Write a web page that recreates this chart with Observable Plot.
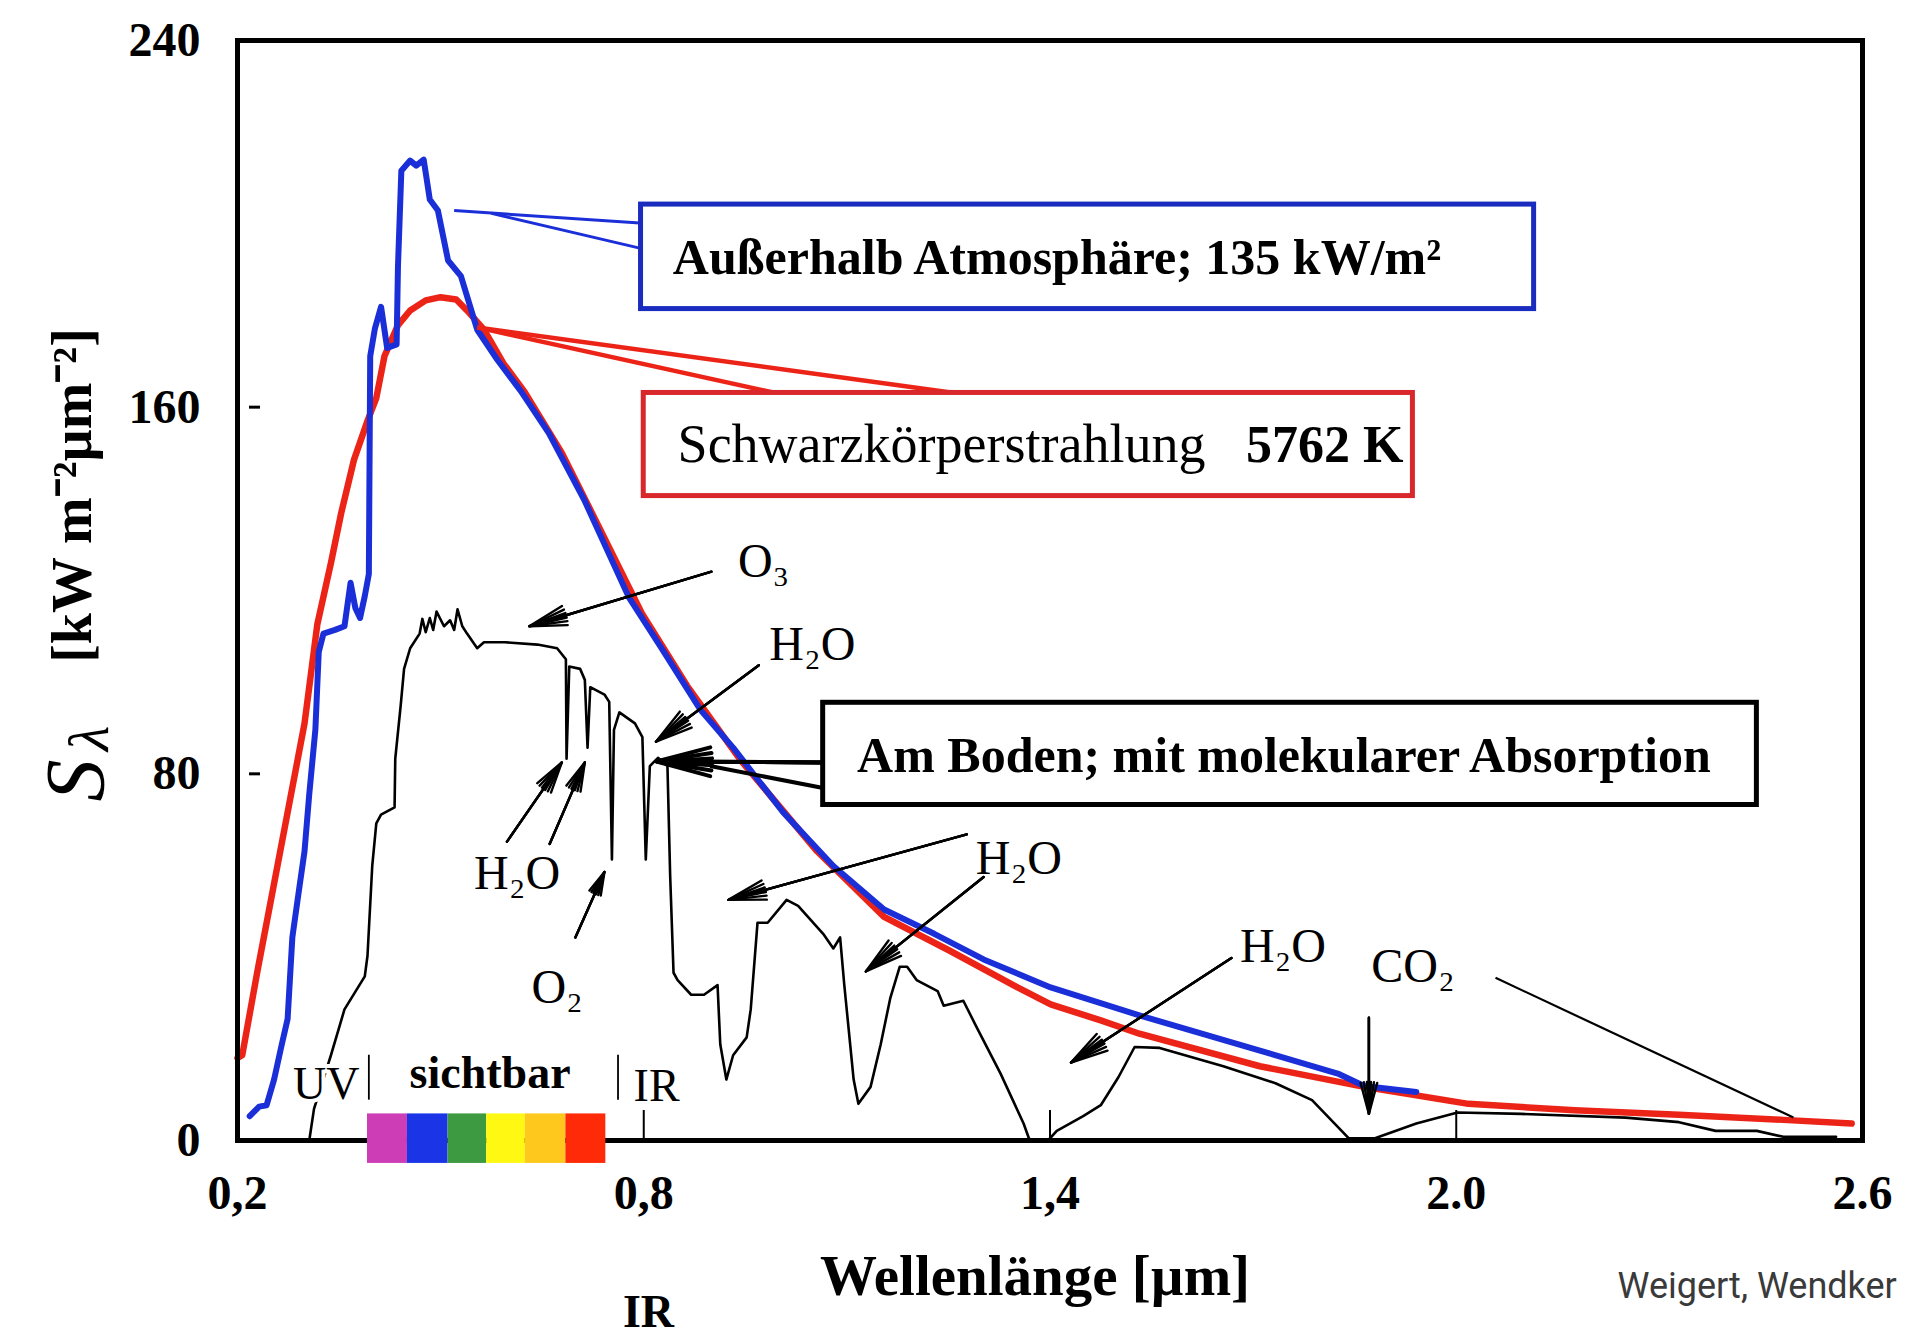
<!DOCTYPE html>
<html>
<head>
<meta charset="utf-8">
<script src="https://cdn.jsdelivr.net/npm/d3@7"></script>
<script src="https://cdn.jsdelivr.net/npm/@observablehq/plot@0.6"></script>
<style>
  html, body { margin: 0; padding: 0; background: #fff; overflow: hidden; }
  #chart { width: 1906px; height: 1340px; }
</style>
</head>
<body>
<div id="chart"></div>
<script>
// ---------------- DATA ----------------
// axis ticks
const xTicks = [0.2, 0.8, 1.4, 2.0, 2.6];
const xTickLabels = ["0,2", "0,8", "1,4", "2.0", "2.6"];
const yTicks = [0, 80, 160, 240];

// Außerhalb Atmosphäre (blue), wavelength [µm] and S_λ
const blueLambda = [0.218,0.232,0.243,0.254,0.265,0.274,0.281,0.290,0.299,0.306,0.315,0.320,0.327,0.344,0.358,0.367,0.374,0.381,0.388,0.394,0.396,0.403,0.412,0.421,0.435,0.437,0.442,0.455,0.464,0.475,0.484,0.496,0.511,0.530,0.554,0.584,0.618,0.660,0.712,0.778,0.825,0.884,0.932,1.006,1.080,1.155,1.229,1.302,1.401,1.532,1.710,1.825,1.864,1.941];
const blueS      = [5.3,7.4,7.7,13.3,20.7,26.5,44.3,53.8,63.1,75.6,89.6,106.6,110.6,111.4,112.2,121.7,116.2,114.0,118.8,123.6,171.1,177.2,181.9,172.9,173.7,190.7,211.6,213.8,212.7,214.0,205.3,202.9,192.0,188.6,176.9,170.3,163.6,154.3,139.8,118.5,107.7,93.9,85.7,71.6,59.9,50.4,45.1,39.5,33.4,27.3,19.6,14.6,11.9,10.6];

// Schwarzkörperstrahlung 5762 K (red)
const redLambda = [0.200,0.207,0.229,0.259,0.299,0.318,0.338,0.353,0.372,0.392,0.405,0.417,0.437,0.455,0.478,0.500,0.523,0.539,0.564,0.593,0.624,0.679,0.731,0.798,0.864,0.943,1.056,1.155,1.252,1.352,1.401,1.475,1.532,1.710,1.864,2.018,2.175,2.329,2.483,2.584];
const redS      = [18.0,18.6,36.6,59.9,91.0,112.7,126.0,136.8,148.5,157.0,162.0,171.1,177.9,181.1,183.3,184.0,183.5,181.1,176.9,169.5,163.3,150.0,134.7,114.8,99.2,83.0,63.1,48.8,41.4,33.4,29.7,26.2,23.3,16.2,11.7,8.0,6.6,5.6,4.5,3.7];

// Am Boden; mit molekularer Absorption (black)
const groundLambda = [0.306,0.313,0.338,0.358,0.388,0.392,0.399,0.405,0.412,0.432,0.433,0.441,0.446,0.455,0.469,0.473,0.478,0.484,0.489,0.494,0.505,0.514,0.520,0.525,0.532,0.539,0.554,0.564,0.595,0.643,0.672,0.685,0.686,0.690,0.706,0.713,0.717,0.721,0.742,0.749,0.753,0.756,0.764,0.787,0.798,0.803,0.809,0.821,0.835,0.839,0.844,0.850,0.870,0.889,0.909,0.913,0.922,0.932,0.952,0.958,0.968,0.983,1.011,1.028,1.065,1.080,1.090,1.096,1.110,1.117,1.135,1.150,1.164,1.178,1.189,1.203,1.234,1.243,1.272,1.291,1.327,1.361,1.370,1.397,1.410,1.449,1.475,1.501,1.525,1.562,1.656,1.733,1.787,1.841,1.880,1.941,2.002,2.096,2.250,2.329,2.383,2.444,2.483,2.561];
const groundS      = [0,6.9,18.6,28.6,35.8,40.3,59.9,69.2,71.1,72.7,83.3,94.9,102.9,107.4,110.6,113.8,110.9,114.0,111.4,115.4,112.2,113.5,111.4,115.9,112.2,110.6,107.4,108.7,108.7,108.2,107.4,105.0,83.3,103.4,102.9,100.5,85.7,98.9,97.3,95.7,61.3,89.6,93.4,91.0,88.0,61.3,81.7,83.5,81.7,57.8,36.6,35.0,31.8,31.8,33.9,21.0,13.3,18.6,22.5,28.6,47.5,47.5,52.5,51.2,45.1,41.9,44.3,34.2,13.3,8.0,11.7,21.0,31.0,37.9,37.9,35.0,32.6,29.4,30.5,24.9,14.6,3.7,0,0,2.1,5.3,7.7,13.8,20.4,20.2,16.2,12.5,8.8,0.5,0.5,3.7,6.1,5.8,5.0,4.0,2.1,2.1,0.8,0.8];

// visible spectrum colour bar (band edges in µm)
const bandEdges  = [0.392, 0.451, 0.511, 0.568, 0.625, 0.685, 0.744];
const bandColors = ["#cc3db6", "#1b34e6", "#3d9a40", "#fff812", "#ffc81c", "#ff2a08"];

// molecule labels (anchor in data units)
const molText = ["O₃", "H₂O", "H₂O", "O₂", "H₂O", "H₂O", "CO₂"];
const molX    = [0.977, 1.049, 0.613, 0.672, 1.354, 1.744, 1.936];
const molY    = [126.2, 108.2, 58.3, 33.4, 61.5, 42.4, 37.9];

// absorption arrows (start -> head) in data units
const arrX1 = [0.900, 0.970, 0.598, 0.661, 0.699, 1.277, 1.302, 1.668, 1.871];
const arrY1 = [124.1, 103.7, 65.2, 64.7, 44.3, 66.8, 57.5, 39.8, 26.8];
const arrX2 = [0.631, 0.818, 0.679, 0.713, 0.742, 0.925, 1.128, 1.431, 1.871];
const arrY2 = [112.2, 87.0, 82.5, 82.5, 58.6, 52.5, 36.9, 17.0, 5.8];

// ---------------- BUILD ----------------
const toPts = (xs, ys) => xs.map((x, i) => ({x, y: ys[i]}));
const blue = toPts(blueLambda, blueS);
const red = toPts(redLambda, redS);
const ground = toPts(groundLambda, groundS);
const bands = bandColors.map((c, i) => ({x1: bandEdges[i], x2: bandEdges[i + 1], c}));
const mols = molText.map((t, i) => ({t, x: molX[i], y: molY[i]}));
const arrows = arrX1.map((x1, i) => ({x1, y1: arrY1[i], x2: arrX2[i], y2: arrY2[i]}));

const serif = "'Liberation Serif', 'Times New Roman', Times, serif";
const BLUE = "#1b2fd8", RED = "#ec2418";

const arrowHeads = (data, opts) => [30, 18, 7].map(a =>
  Plot.arrow(data, {x1: "x1", y1: "y1", x2: "x2", y2: "y2", headAngle: a, ...opts}));

const chart = Plot.plot({
  width: 1906,
  height: 1340,
  marginLeft: 237,
  marginRight: 44,
  marginTop: 40,
  marginBottom: 200,
  style: {fontFamily: serif, fontSize: "48px", fontWeight: "bold", background: "#fff", color: "#000"},
  x: {domain: [0.2, 2.6]},
  y: {domain: [0, 240]},
  marks: [
    // axes
    Plot.axisY({ticks: yTicks, tickSize: 0, tickPadding: 37, label: null}),
    Plot.axisX({ticks: xTicks, tickFormat: d => xTickLabels[xTicks.indexOf(d)], tickSize: 0, tickPadding: 34, label: null}),
    Plot.axisX({ticks: [0.8, 1.4, 2.0], tickSize: -30, text: null, strokeWidth: 2, label: null}),
    Plot.tickY([80, 160], {insetLeft: 12, insetRight: 1602, strokeWidth: 3, stroke: "#000"}),

    // curves
    Plot.line(red, {x: "x", y: "y", stroke: RED, strokeWidth: 6.5}),
    Plot.line(blue, {x: "x", y: "y", stroke: BLUE, strokeWidth: 6}),
    Plot.line(ground, {x: "x", y: "y", stroke: "#000", strokeWidth: 2.6}),

    Plot.frame({stroke: "#000", strokeWidth: 5}),

    // visible spectrum bar
    Plot.rect(bands, {x1: "x1", x2: "x2", y1: -5.0, y2: 5.8, fill: "c"}),
    Plot.ruleX([0.394, 0.762], {y1: 8.8, y2: 18.6, stroke: "#000", strokeWidth: 1.8}),
    Plot.text(["UV"], {x: 0.331, y: 12.2, fontSize: 46, fontWeight: "normal", fontFamily: serif, stroke: "#fff", strokeWidth: 8, fill: "#000"}),
    Plot.text(["sichtbar"], {x: 0.573, y: 14.6, fontSize: 46, fontWeight: "bold", fontFamily: serif, stroke: "#fff", strokeWidth: 8, fill: "#000"}),
    Plot.text(["IR"], {x: 0.819, y: 11.9, fontSize: 46, fontWeight: "normal", fontFamily: serif, stroke: "#fff", strokeWidth: 8, fill: "#000"}),

    // absorption arrows and labels
    ...arrowHeads(arrows, {stroke: "#000", strokeWidth: 2.4, headLength: 24}),
    Plot.link([{x1: 2.058, y1: 35.5, x2: 2.498, y2: 5.0}], {x1: "x1", y1: "y1", x2: "x2", y2: "y2", stroke: "#000", strokeWidth: 2.2}),
    Plot.text(mols, {x: "x", y: "y", text: "t", fontSize: 48, fontWeight: "normal", fontFamily: serif, fill: "#000"}),

    // blue call-out
    Plot.link([{x1: 0.520, y1: 202.9, x2: 0.794, y2: 200.2}, {x1: 0.575, y1: 202.3, x2: 0.794, y2: 194.7}],
      {x1: "x1", y1: "y1", x2: "x2", y2: "y2", stroke: BLUE, strokeWidth: 3}),
    Plot.rect([{x1: 0.796, x2: 2.115, y1: 181.4, y2: 204.2}], {x1: "x1", x2: "x2", y1: "y1", y2: "y2", fill: "#fff", stroke: "#1a2bc0", strokeWidth: 5}),
    Plot.text(["Außerhalb Atmosphäre; 135 kW/m²"], {x: 0.843, y: 192.5, textAnchor: "start", fontSize: 50, fontWeight: "bold", fontFamily: serif, fill: "#000"}),

    // red call-out
    Plot.link([{x1: 0.554, y1: 177.4, x2: 1.010, y2: 162.6}, {x1: 0.554, y1: 177.4, x2: 1.259, y2: 163.1}],
      {x1: "x1", y1: "y1", x2: "x2", y2: "y2", stroke: RED, strokeWidth: 4.5}),
    Plot.rect([{x1: 0.800, x2: 1.936, y1: 140.6, y2: 163.1}], {x1: "x1", x2: "x2", y1: "y1", y2: "y2", fill: "#fff", stroke: "#d8282c", strokeWidth: 5}),
    Plot.text(["Schwarzkörperstrahlung"], {x: 0.850, y: 151.7, textAnchor: "start", fontSize: 54, fontWeight: "normal", fontFamily: serif, fill: "#000"}),
    Plot.text(["5762 K"], {x: 1.922, y: 151.7, textAnchor: "end", fontSize: 52, fontWeight: "bold", fontFamily: serif, fill: "#000"}),

    // black call-out
    ...arrowHeads([{x1: 1.065, y1: 82.5, x2: 0.819, y2: 82.7}], {stroke: "#000", strokeWidth: 4, headLength: 30}),
    Plot.link([{x1: 1.065, y1: 76.9, x2: 0.898, y2: 81.7}], {x1: "x1", y1: "y1", x2: "x2", y2: "y2", stroke: "#000", strokeWidth: 4}),
    Plot.rect([{x1: 1.065, x2: 2.444, y1: 73.2, y2: 95.5}], {x1: "x1", x2: "x2", y1: "y1", y2: "y2", fill: "#fff", stroke: "#000", strokeWidth: 5}),
    Plot.text(["Am Boden; mit molekularer Absorption"], {x: 1.115, y: 83.8, textAnchor: "start", fontSize: 50, fontWeight: "bold", fontFamily: serif, fill: "#000"}),

    // axis titles
    Plot.text(["[kW m⁻²µm⁻²]"], {frameAnchor: "left", textAnchor: "middle", lineAnchor: "middle", dx: -164, dy: -95, rotate: -90, fontSize: 56, fontWeight: "bold", fontFamily: serif, fill: "#000"}),
    Plot.text(["S"], {frameAnchor: "left", textAnchor: "middle", lineAnchor: "middle", dx: -160, dy: 190, rotate: -90, fontSize: 84, fontStyle: "italic", fontWeight: "normal", fontFamily: serif, fill: "#000"}),
    Plot.text(["λ"], {frameAnchor: "left", textAnchor: "middle", lineAnchor: "middle", dx: -148, dy: 148, rotate: -90, fontSize: 58, fontStyle: "italic", fontWeight: "normal", fontFamily: serif, fill: "#000"}),
    Plot.text(["Wellenlänge [µm]"], {frameAnchor: "bottom", textAnchor: "middle", lineAnchor: "middle", dx: -15, dy: 136, fontSize: 57, fontWeight: "bold", fontFamily: serif, fill: "#000"}),
    Plot.text(["IR"], {frameAnchor: "bottom-left", textAnchor: "middle", lineAnchor: "middle", dx: 411, dy: 172, fontSize: 46, fontWeight: "bold", fontFamily: serif, fill: "#000"}),
    Plot.text(["Weigert, Wendker"], {frameAnchor: "bottom-left", textAnchor: "start", lineAnchor: "middle", dx: 1380, dy: 146, fontSize: 36, fontWeight: "normal", fontFamily: "'Liberation Sans Narrow', 'Roboto', sans-serif", fill: "#3a3a3a"})
  ]
});

document.getElementById("chart").appendChild(chart);
</script>
</body>
</html>
